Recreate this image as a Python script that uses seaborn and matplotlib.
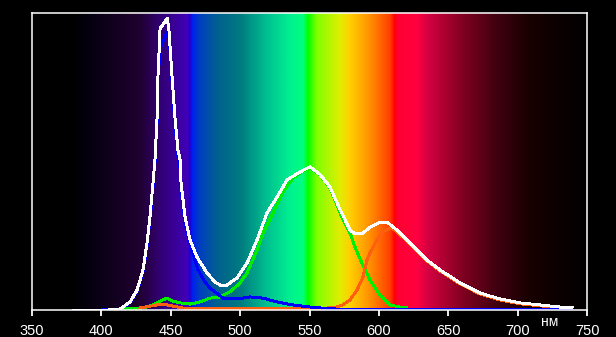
import numpy as np
import pandas as pd
import matplotlib
matplotlib.use("Agg")
import matplotlib.pyplot as plt
import seaborn as sns
from matplotlib.colors import LinearSegmentedColormap

# ---- data (wavelength nm, relative intensity) ----
white_nm = [380, 405, 413.4, 420.6, 425.7, 430, 432.9, 435, 437.2, 438.6, 440.1, 440.8, 442.3, 445, 447.5,
            448.7, 450.9, 453.1, 455.2, 456.7, 457.4, 460.3, 463.9, 468.9, 476.1, 481.9, 485.5, 490.5,
            497.7, 505, 512.2, 519.4, 526.6, 533.8, 543.2, 550.4, 557.6, 564.8, 572, 579.2, 582.8, 587.8,
            593.6, 600.8, 605.9, 613.1, 622.4, 634.7, 644, 658.5, 672.9, 687.3, 701.7, 716.1, 730.5, 739.9]
white_val = [0.0, 0.0, 0.003, 0.027, 0.067, 0.135, 0.226, 0.313, 0.428, 0.505, 0.643, 0.788, 0.948, 0.965, 0.982,
             0.943, 0.788, 0.643, 0.539, 0.505, 0.428, 0.313, 0.236, 0.178, 0.125, 0.094, 0.084, 0.084,
             0.108, 0.158, 0.236, 0.327, 0.380, 0.438, 0.465, 0.482, 0.456, 0.414, 0.338, 0.269, 0.256, 0.256,
             0.279, 0.296, 0.296, 0.269, 0.226, 0.168, 0.135, 0.091, 0.057, 0.037, 0.024, 0.017, 0.010, 0.010]

blue_nm = [400, 413.4, 420.6, 425.7, 430, 432.9, 435, 437.2, 438.6, 440.1, 440.8, 442.3, 445, 447.5, 449,
           450.9, 453.1, 455.2, 456.7, 457.4, 460.3, 465.3, 469.6, 474.7, 478.3, 487.7, 497.7, 507.1,
           516.5, 526.6, 538.1, 550.4, 564.8, 579, 620, 680, 739.9]
blue_val = [0.0, 0.003, 0.025, 0.062, 0.128, 0.215, 0.300, 0.410, 0.490, 0.625, 0.770, 0.880, 0.910, 0.936, 0.910,
            0.770, 0.620, 0.515, 0.480, 0.405, 0.290, 0.202, 0.135, 0.094, 0.074, 0.040, 0.037, 0.044,
            0.040, 0.027, 0.017, 0.010, 0.004, 0.002, 0.002, 0.002, 0.002]

green_nm = [415.6, 430, 437.2, 442.3, 447.3, 451.6, 456.7, 463.9, 471.1, 478.3, 485.5, 492.7, 499.9, 505,
            512.2, 516.5, 523.7, 530.9, 538.1, 545.3, 550.4, 557.6, 564.8, 572, 579.2, 582.8, 587.8,
            593.6, 600.8, 608, 615.2, 620.3]
green_val = [0.003, 0.007, 0.017, 0.030, 0.040, 0.030, 0.024, 0.020, 0.027, 0.040, 0.044, 0.061, 0.091, 0.125,
             0.202, 0.259, 0.327, 0.397, 0.444, 0.468, 0.478, 0.455, 0.411, 0.327, 0.259, 0.212, 0.158,
             0.101, 0.051, 0.017, 0.010, 0.007]

red_nm = [427.8, 440.1, 444.4, 451.6, 458.1, 466, 492.7, 543, 567, 574.1, 579.2, 584.2, 588.6, 591.4,
          593.6, 598.6, 603, 608, 611.6, 622.4, 634.7, 644, 658.5, 672.9, 687.3, 701.7, 716.1, 730.5, 739.9]
red_val = [0.007, 0.017, 0.020, 0.013, 0.007, 0.005, 0.004, 0.006, 0.007, 0.017, 0.034, 0.067, 0.111, 0.168,
           0.192, 0.236, 0.263, 0.276, 0.269, 0.222, 0.165, 0.132, 0.088, 0.054, 0.034, 0.021, 0.014, 0.008, 0.007]

x_ticks = [350, 400, 450, 500, 550, 600, 650, 700, 750]
unit_label = "нм"

# background spectrum colour stops (nm, colour)
spectrum_nm = [350, 378, 391.8, 427.8, 440.1, 461.7, 463.9, 465.3, 471.1, 483.3, 499.9, 519.4, 535.9,
               545.3, 548.9, 555.4, 572, 579.2, 593.6, 608, 611.6, 613.1, 627.5, 636.8, 660.6, 685.1,
               708.9, 732.7, 750]
spectrum_col = ["#000000", "#000000", "#050010", "#200030", "#30006a", "#4000b8", "#2000d0", "#0020f0",
                "#0040c0", "#006090", "#007a80", "#00c090", "#00f090", "#00ff80", "#00ff00", "#80ff00",
                "#e0ee00", "#ffd000", "#ff9000", "#ff4000", "#ff0000", "#ff0030", "#ff0040", "#d00040",
                "#800020", "#400010", "#180000", "#0a0000", "#000000"]

# ---- plot ----
sns.set_theme(style="dark")
plt.rcParams["font.family"] = ["Liberation Sans", "DejaVu Sans"]

fig = plt.figure(figsize=(6.16, 3.37), dpi=100, facecolor="black")
ax = fig.add_axes([32 / 616, 27 / 337, 555 / 616, 297 / 337])
ax.set_facecolor("black")

pos = [(v - 350) / 400 for v in spectrum_nm]
cmap = LinearSegmentedColormap.from_list("spec", list(zip(pos, spectrum_col)), N=1024)
grad = np.linspace(0, 1, 1200)[None, :]
ax.imshow(grad, cmap=cmap, extent=[350, 750, 0, 1], aspect="auto", zorder=0, interpolation="bilinear")

series = [
    (green_nm, green_val, "#00ee00", 2),
    (red_nm, red_val, "#ff6010", 2),
    (blue_nm, blue_val, "#0000ff", 3),
    (white_nm, white_val, "#ffffff", 4),
]
for xs, ys, col, z in series:
    df = pd.DataFrame({"nm": xs, "val": ys})
    sns.lineplot(data=df, x="nm", y="val", ax=ax, color=col, linewidth=1.4, zorder=z,
                 sort=False, estimator=None, antialiased=False)

ax.set_xlim(350, 750)
ax.set_ylim(0, 1)
ax.set_xticks(x_ticks)
ax.set_xticklabels([str(t) for t in x_ticks])
ax.set_yticks([])
ax.set_xlabel("")
ax.set_ylabel("")
ax.grid(False)
for s in ax.spines.values():
    s.set_visible(True)
    s.set_color("white")
    s.set_linewidth(1.1)
    s.set_zorder(6)
ax.tick_params(axis="x", colors="white", direction="out", length=4, width=1.3,
               labelsize=10.5, pad=6, bottom=True)

ax.text(723.3, -0.054, unit_label, color="white", fontsize=10, ha="center", va="baseline",
        transform=ax.get_xaxis_transform())

fig.savefig("out.png", dpi=100, facecolor="black")
